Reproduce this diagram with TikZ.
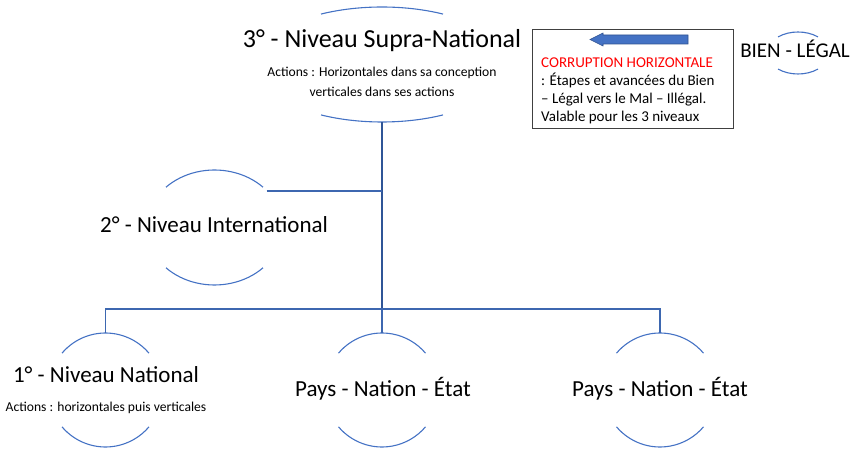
\documentclass[tikz,border=0pt]{standalone}
\usepackage{fontspec}
\setmainfont{Carlito}
\usepackage{tikz}
\usepackage{xcolor}
\usetikzlibrary{positioning, calc}
\definecolor{arcblue}{HTML}{4472C4}
\definecolor{linkblue}{HTML}{2F5597}
\definecolor{arrowedge}{HTML}{2F528F}

\tikzset{
  arcline/.style={arcblue, line width=1.1pt},
  link/.style={linkblue, line width=1.4pt},
  sublink/.style={arcblue!90!black, line width=1.2pt},
  bigtitle/.style={font=\fontsize{26}{28}\selectfont, anchor=base, inner sep=0pt},
  leveltitle/.style={font=\fontsize{23}{26}\selectfont, anchor=base, inner sep=0pt},
  subtext/.style={font=\fontsize{13.6}{20}\selectfont, anchor=base, inner sep=0pt, align=center},
}

\begin{document}
\begin{tikzpicture}[x=1pt, y=1pt]
\useasboundingbox (0,0) rectangle (861,449);

% Centres of the arc pairs
\coordinate (supc) at (382,384.5);
\coordinate (intc) at (214.5,221.5);
\coordinate (natc) at (105.5,59);
\coordinate (paysac) at (382,59);
\coordinate (paysbc) at (660,59);
\coordinate (bienc) at (798,396);

% Arcs above and below each level
\draw[arcline] (supc) ++(118.7:127 and 57.5) arc[start angle=118.7, end angle=61.3, x radius=127, y radius=57.5];
\draw[arcline] (supc) ++(241.3:127 and 57.5) arc[start angle=241.3, end angle=298.7, x radius=127, y radius=57.5];
\draw[arcline] (intc) ++(135.5:68 and 57.5) arc[start angle=135.5, end angle=44.5, x radius=68, y radius=57.5];
\draw[arcline] (intc) ++(224.5:68 and 57.5) arc[start angle=224.5, end angle=315.5, x radius=68, y radius=57.5];
\foreach \c in {natc, paysac, paysbc} {
  \draw[arcline] (\c) ++(139.7:57) arc[start angle=139.7, end angle=40.3, radius=57];
  \draw[arcline] (\c) ++(220.3:57) arc[start angle=220.3, end angle=319.7, radius=57];
}
\draw[arcline] (bienc) ++(130.2:31 and 21) arc[start angle=130.2, end angle=49.8, x radius=31, y radius=21];
\draw[arcline] (bienc) ++(229.8:31 and 21) arc[start angle=229.8, end angle=310.2, x radius=31, y radius=21];

% Texts
\node[bigtitle] (sup) at (382,401) {3° - Niveau Supra-National};
\node[subtext] (supsub) at (382,352) {Actions : Horizontales dans sa conception\\verticales dans ses actions};
\node[leveltitle] (int) at (214,216) {2° - Niveau International};
\node[leveltitle] (nat) at (106,66) {1° - Niveau National};
\node[subtext] (natsub) at (106,37) {Actions : horizontales puis verticales};
\node[leveltitle] (paysa) at (383,52) {Pays - Nation - État};
\node[leveltitle] (paysb) at (660,52) {Pays - Nation - État};
\node[leveltitle, font=\fontsize{21}{24}\selectfont] (bien) at (795,391) {BIEN - LÉGAL};

% Connectors
\coordinate (supbot) at ($(supc)+(0,-57.5)$);
\coordinate (inttop) at ($(intc)+(52,36.5)$);
\coordinate (nattop) at ($(natc)+(0,57)$);
\coordinate (paysatop) at ($(paysac)+(0,57)$);
\coordinate (paysbtop) at ($(paysbc)+(0,57)$);
\coordinate (bus) at (382,140);
\draw[link] (supbot) -- (bus);
\draw[sublink] (bus) -- (paysatop);
\draw[sublink] (inttop) -- (inttop -| supbot);
\draw[sublink] (nattop) |- (bus) -| (paysbtop);

% Legend box
\node[draw=black!75, line width=0.8pt, minimum width=201, minimum height=99, anchor=north west,
      inner sep=0pt] (legend) at (532,420) {};
\node[anchor=base west, inner sep=0pt, align=left, font=\fontsize{15}{18.3}\selectfont]
  (legendtext) at (541,327) {\textcolor{red}{CORRUPTION HORIZONTALE}\\: Étapes et avancées du Bien\\– Légal vers le Mal – Illégal.\\Valable pour les 3 niveaux};

% Block arrow
\filldraw[fill=arcblue, draw=arrowedge, line width=0.6pt]
  (590,409.5) -- (603,416) -- (603,414) -- (688,414) -- (688,405) -- (603,405) -- (603,403) -- cycle;
\end{tikzpicture}
\end{document}
